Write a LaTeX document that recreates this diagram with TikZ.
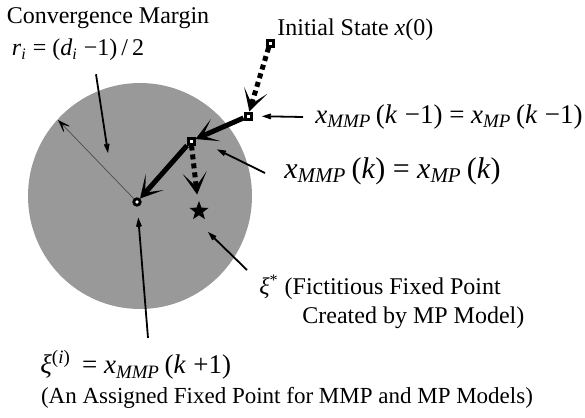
\documentclass[tikz,border=0pt]{standalone}
\usepackage{fontspec}
\setmainfont{Liberation Serif}
\usetikzlibrary{positioning,shapes.geometric,arrows.meta,calc}
\definecolor{margingray}{HTML}{999999}
\newcommand{\xsub}[1]{\textit{x}\textsubscript{\textit{#1}}}

\begin{document}
\begin{tikzpicture}[x=0.5pt, y=-0.5pt,
    state/.style={draw, line width=1.5pt, fill=white, minimum size=3pt, inner sep=0pt},
    fixpt/.style={circle, draw, line width=1.4pt, fill=white, minimum size=3.2pt, inner sep=0pt},
    fict/.style={star, star points=5, star point ratio=2.4, fill=black, minimum size=10pt, inner sep=0pt},
    lbl/.style={font=\fontsize{12}{14}\selectfont, inner sep=0pt},
    mlbl/.style={font=\fontsize{15}{18}\selectfont, inner sep=0pt},
    traj/.style={-{Stealth[length=11pt, width=12pt, inset=7pt]}, line width=2.5pt},
    dotarr/.style={traj, dash pattern=on 2.5pt off 2pt},
    lblarr/.style={-{Stealth[length=9pt, width=6pt, inset=5.5pt]}, line width=0.9pt}
]
    \useasboundingbox (0,0) rectangle (585,418);

    % region of convergence
    \fill[margingray] (140,196) circle [x radius=112, y radius=113];

    % states
    \node[state] (init) at (270,43) {};
    \node[state] (km1) at (248,116) {};
    \node[state] (k) at (191,141) {};
    \node[fixpt] (xi) at (137,202) {};
    \node[fict] (star) at (199,211) {};

    \draw[dotarr] (init) -- (km1);
    \draw[traj] (km1) -- (k);
    \draw[traj] (k) -- (xi);
    \draw[dotarr, shorten >=4pt] (k) -- (star);

    % radius
    \coordinate (rim) at (58,120);
    \draw[line width=0.35pt, gray!60!black, -{Stealth[black, length=8pt, width=5.5pt, inset=5pt]}] (xi) -- (rim);

    % labels
    \node[lbl] (conv) at (108,18) {Convergence Margin};
    \node[lbl] (rmar) at (78,50)
        {\textit{r}\textsubscript{\textit{i}} = (\textit{d}\textsubscript{\textit{i}} −1)\,/\,2};
    \node[lbl, anchor=west] (initlbl) at (277,30) {Initial State \textit{x}(0)};
    \node[mlbl, font=\fontsize{13.5}{16}\selectfont, anchor=east] (km1lbl) at (583,117)
        {\xsub{MMP}\,(\textit{k}\;−1) = \xsub{MP}\,(\textit{k}\;−1)};
    \node[mlbl, anchor=west] (klbl) at (284,171)
        {\xsub{MMP}\,(\textit{k}) = \xsub{MP}\,(\textit{k})};
    \node[lbl, anchor=west] (starlbl) at (259,287)
        {\textit{ξ}\textsuperscript{*} (Fictitious Fixed Point};
    \node[lbl, anchor=west] (crlbl) at (302,318) {Created by MP Model)};
    \node[lbl, font=\fontsize{13.5}{16}\selectfont, anchor=west] (xilbl) at (40,365)
        {\textit{ξ}\textsuperscript{(\textit{i})}\, = \xsub{MMP}\,(\textit{k}\;+1)};
    \node[lbl, font=\fontsize{11.5}{14}\selectfont] (asglbl) at (287,398)
        {(An Assigned Fixed Point for MMP and MP Models)};

    % pointers
    \coordinate (convtip) at (108,153);
    \coordinate (startip) at (208,232);
    \draw[lblarr] ($(rmar.south)+(18,13)$) -- (convtip);
    \draw[lblarr, shorten >=4.7pt] ($(km1lbl.west)+(-12,0)$) -- (km1);
    \draw[lblarr] ($(klbl.west)+(-19,2)$) -- ($(k)!0.28!(klbl.west)$);
    \draw[lblarr] ($(starlbl.west)+(-12,-17)$) -- (startip);
    \draw[lblarr, shorten >=5.5pt] ($(xilbl.north west)+(108,-12)$) -- (xi);
\end{tikzpicture}
\end{document}
